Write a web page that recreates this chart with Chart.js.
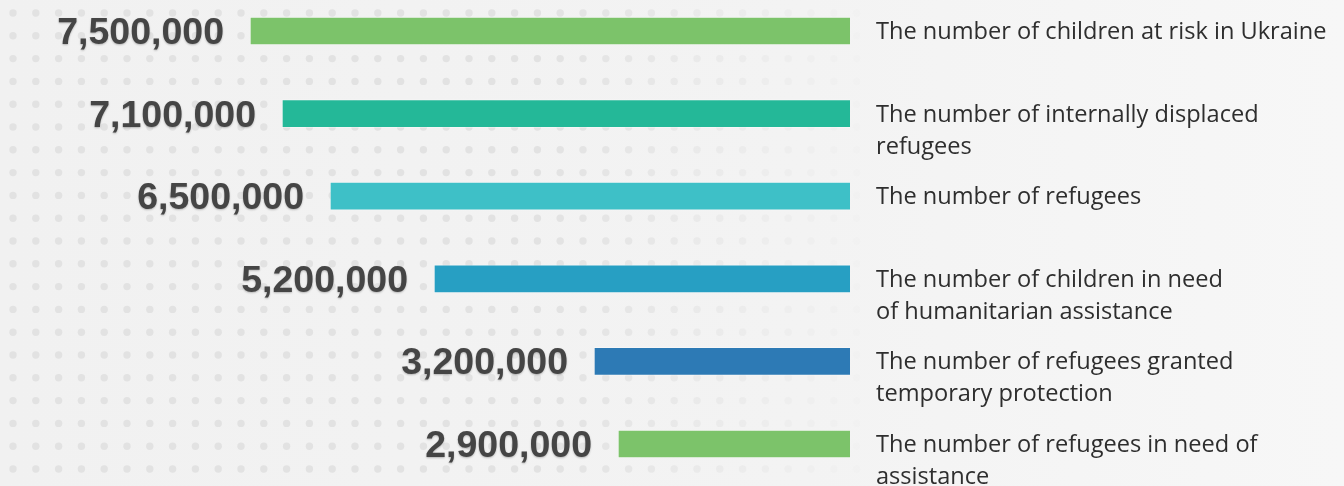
<!DOCTYPE html>
<html>
  <head>
    <script src="https://cdn.jsdelivr.net/npm/chart.js@4.4.0/dist/chart.umd.min.js"></script>
    <style>
      html, body { margin: 0; padding: 0; background: #f2f2f2; }
      #wrap { width: 1344px; height: 486px; }
    </style>
  </head>

  <body>
    <div id="wrap">
      <canvas id="canvas"></canvas>
    </div>
    <script>
      const labels = [
        ['The number of children at risk in Ukraine'],
        ['The number of internally displaced', 'refugees'],
        ['The number of refugees'],
        ['The number of children in need', 'of humanitarian assistance'],
        ['The number of refugees granted', 'temporary protection'],
        ['The number of refugees in need of', 'assistance'],
      ];
      const values = [7500000, 7100000, 6500000, 5200000, 3200000, 2900000];
      const colors = ['#7cc36a', '#24b898', '#3ec0c7', '#279fc3', '#2d7ab5', '#7cc36a'];

      // dotted paper background
      const backdrop = {
        id: 'backdrop',
        beforeDraw(chart) {
          const ctx = chart.ctx;
          ctx.save();
          const g = ctx.createLinearGradient(0, 0, chart.width, 0);
          g.addColorStop(0, '#f1f1f1');
          g.addColorStop(0.6, '#f3f3f3');
          g.addColorStop(1, '#f7f7f7');
          ctx.fillStyle = g;
          ctx.fillRect(0, 0, chart.width, chart.height);
          for (let x = 13; x < 900; x += 22.8) {
            const a = Math.max(0, 1 - Math.max(0, x - 550) / 330);
            ctx.fillStyle = 'rgba(226,226,226,' + a + ')';
            for (let y = 13; y < chart.height; y += 22.8) {
              ctx.beginPath();
              ctx.arc(x, y, 3.7, 0, Math.PI * 2);
              ctx.fill();
            }
          }
          ctx.restore();
        },
      };

      // big numbers left of each bar, descriptions on the right
      const annotate = {
        id: 'annotate',
        afterDatasetsDraw(chart) {
          const ctx = chart.ctx;
          const meta = chart.getDatasetMeta(0);
          const right = chart.chartArea.right;
          ctx.save();
          meta.data.forEach((bar, i) => {
            ctx.font = "bold 37.5px 'Liberation Sans', Arial, sans-serif";
            ctx.textAlign = 'right';
            ctx.textBaseline = 'alphabetic';
            ctx.shadowColor = 'rgba(0,0,0,0.25)';
            ctx.shadowBlur = 2;
            ctx.shadowOffsetY = 1;
            ctx.fillStyle = '#454545';
            ctx.fillText(values[i].toLocaleString('en-US'), bar.x - 26, bar.y + 13);
            ctx.shadowColor = 'transparent';
            ctx.font = "23.6px 'Open Sans', 'Noto Sans', sans-serif";
            ctx.textAlign = 'left';
            ctx.fillStyle = '#2e2e2e';
            labels[i].forEach((line, j) => {
              ctx.fillText(line, right + 26, bar.y + 8 + j * 32);
            });
          });
          ctx.restore();
        },
      };

      new Chart(document.getElementById('canvas').getContext('2d'), {
        type: 'bar',
        data: {
          labels: labels.map((l) => l.join(' ')),
          datasets: [
            {
              data: values,
              backgroundColor: colors,
              borderColor: 'rgba(255,255,255,0.35)',
              borderWidth: 1,
              barThickness: 28,
              clip: false,
            },
          ],
        },
        options: {
          indexAxis: 'y',
          responsive: true,
          maintainAspectRatio: false,
          animation: false,
          layout: { padding: { left: 10, right: 494, top: 31, bottom: 42 } },
          plugins: {
            legend: { display: false },
            tooltip: { enabled: false },
          },
          scales: {
            x: { display: false, reverse: true, min: 0, max: 10500000 },
            y: { display: false, offset: false },
          },
        },
        plugins: [backdrop, annotate],
      });
    </script>
  </body>
</html>
